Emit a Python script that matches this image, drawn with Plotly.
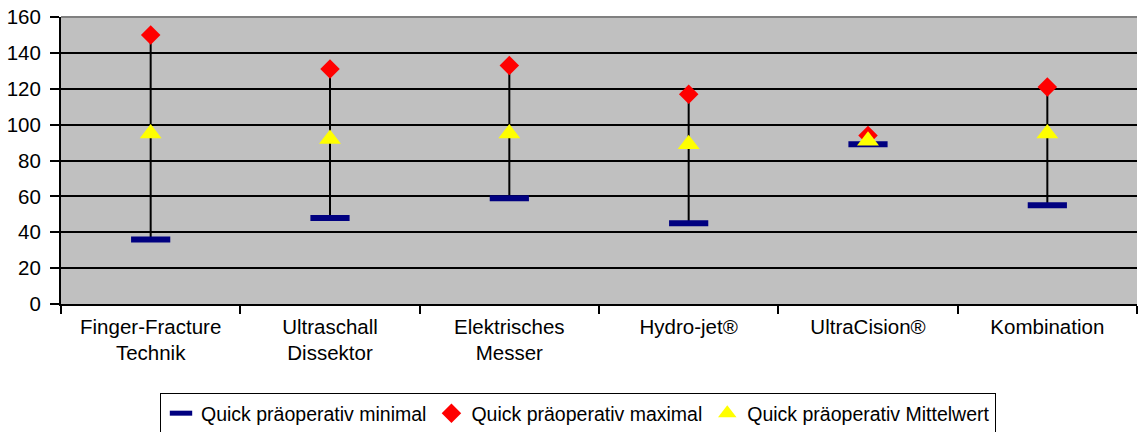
import plotly.graph_objects as go

categories = ["Finger-Fracture<br>Technik", "Ultraschall<br>Dissektor", "Elektrisches<br>Messer",
              "Hydro-jet®", "UltraCision®", "Kombination"]
quick_min = [36, 48, 59, 45, 89, 55]
quick_max = [150, 131, 133, 117, 94, 121]
quick_mean = [95, 92, 95, 89, 91, 95]

y_ticks = list(range(0, 161, 20))

FONT = "Liberation Sans, Arial, sans-serif"

# high-low lines built from data
hl_x, hl_y = [], []
for c, lo, hi in zip(categories, quick_min, quick_max):
    hl_x += [c, c, None]
    hl_y += [lo, hi, None]

fig = go.Figure()
fig.add_trace(go.Scatter(x=hl_x, y=hl_y, mode="lines", line=dict(color="black", width=2),
                         showlegend=False, hoverinfo="skip"))
fig.add_trace(go.Scatter(x=categories, y=quick_min, mode="markers", name="Quick präoperativ minimal",
                         marker=dict(symbol="line-ew", size=28, color="#000080",
                                     line=dict(color="#000080", width=6))))
fig.add_trace(go.Scatter(x=categories, y=quick_max, mode="markers", name="Quick präoperativ maximal",
                         marker=dict(symbol="diamond", size=15, color="#FF0000",
                                     line=dict(width=0))))
fig.add_trace(go.Scatter(x=categories, y=quick_mean, mode="markers", name="Quick präoperativ Mittelwert",
                         marker=dict(symbol="triangle-up", size=19, color="#FFFF00",
                                     line=dict(width=0))))

fig.update_layout(
    width=1138, height=432,
    margin=dict(l=61, r=1, t=17, b=128, autoexpand=False),
    paper_bgcolor="white", plot_bgcolor="#C0C0C0",
    font=dict(family=FONT, size=20.5, color="black"),
    legend=dict(orientation="h", xref="container", x=160 / 1138, xanchor="left",
                yref="container", y=1 - 393 / 432, yanchor="top",
                bordercolor="black", borderwidth=1, bgcolor="white",
                font=dict(size=19.5), itemwidth=30, tracegroupgap=0),
    shapes=[dict(type="line", xref="paper", yref="paper", x0=0, x1=1, y0=1, y1=1,
                 line=dict(color="#808080", width=2))],
)
fig.update_xaxes(type="category", tickson="boundaries", ticks="outside", ticklen=8,
                 tickwidth=2, tickcolor="black", showline=True, linecolor="black", linewidth=2,
                 showgrid=False, tickfont=dict(size=20.5), range=[-0.5, 5.5],
                 ticklabelstandoff=3)
fig.update_yaxes(range=[0, 160], tickvals=y_ticks, ticks="outside", ticklen=9, tickwidth=2,
                 tickcolor="black", showline=True, linecolor="black", linewidth=2,
                 showgrid=True, gridcolor="black", gridwidth=1.6, zeroline=False,
                 tickfont=dict(size=20.5), ticklabelstandoff=5)

fig.write_html("out.html")
